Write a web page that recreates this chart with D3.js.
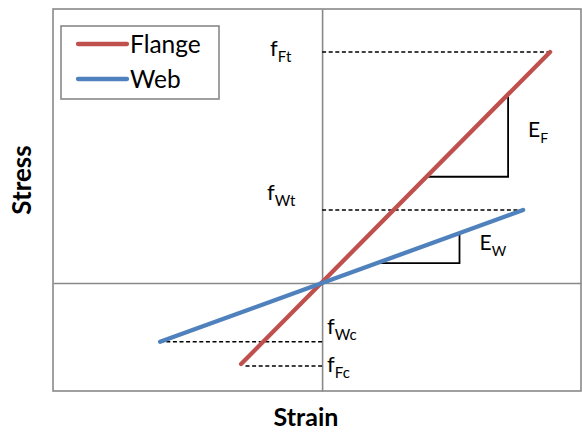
<!DOCTYPE html>
<html>
<head>
<meta charset="utf-8">
<script src="https://cdn.jsdelivr.net/npm/d3@7"></script>
<style>
    body { margin: 0; background: #fff; }
    svg text { font-family: Lato, "Liberation Sans", sans-serif; fill: #000; }
</style>
</head>
<body>
<div id="chart"></div>
<script>
// Stress-strain sketch: flange and web (arbitrary units)
var seriesNames = ["Flange", "Web"];
var seriesColors = ["#C0504D", "#4F81BD"];
var flangeStrain = [-2.7, 7.6];
var flangeStress = [-2.7, 7.7];
var webStrain = [-5.4, 6.7];
var webStress = [-1.96, 2.43];

// dashed guides: [label, strain at end, stress level]
var guideLabels = ["Ft", "Wt", "Wc", "Fc"];
var guideStrain = [7.6, 6.7, -5.4, -2.6];
var guideStress = [7.7, 2.43, -1.96, -2.77];

// slope triangles: [x from, x to, y low, y high]
var slopeLabels = ["F", "W"];
var slopeX0 = [3.49, 1.9];
var slopeX1 = [6.2, 4.58];
var slopeY0 = [3.54, 0.66];
var slopeY1 = [6.21, 1.63];

var width = 582, height = 433;

var svg = d3.select("#chart").append("svg")
    .attr("width", width)
    .attr("height", height);

var x = d3.scaleLinear().domain([-8.97, 8.63]).range([53, 581]);
var y = d3.scaleLinear().domain([-3.6, 9.13]).range([391, 9]);

// plot frame
svg.append("rect")
    .attr("x", x.range()[0])
    .attr("y", y.range()[1])
    .attr("width", x.range()[1] - x.range()[0])
    .attr("height", y.range()[0] - y.range()[1])
    .attr("fill", "none")
    .attr("stroke", "#898989")
    .attr("stroke-width", 1.6);

// axes through the origin, no ticks
var xAxis = svg.append("g")
    .attr("transform", "translate(0," + y(0) + ")")
    .call(d3.axisBottom(x).tickValues([]).tickSizeOuter(0));
var yAxis = svg.append("g")
    .attr("transform", "translate(" + x(0) + ",0)")
    .call(d3.axisLeft(y).tickValues([]).tickSizeOuter(0));
svg.selectAll(".domain").attr("stroke", "#898989").attr("stroke-width", 1.6);

// dashed guide lines
guideLabels.forEach(function (lab, i) {
    svg.append("line")
        .attr("x1", x(0)).attr("x2", x(guideStrain[i]))
        .attr("y1", y(guideStress[i])).attr("y2", y(guideStress[i]))
        .attr("stroke", "#000")
        .attr("stroke-width", 1.5)
        .attr("stroke-dasharray", "4,2.6");
});

// slope triangles
slopeLabels.forEach(function (lab, i) {
    svg.append("path")
        .attr("d", "M" + x(slopeX0[i]) + "," + y(slopeY0[i]) +
            "H" + x(slopeX1[i]) + "V" + y(slopeY1[i]))
        .attr("fill", "none")
        .attr("stroke", "#000")
        .attr("stroke-width", 1.8);
});

// series lines
var series = [
    d3.zip(flangeStrain, flangeStress),
    d3.zip(webStrain, webStress)
];
var line = d3.line().x(function (d) { return x(d[0]); }).y(function (d) { return y(d[1]); });

svg.selectAll(".series")
    .data(series)
    .enter().append("path")
    .attr("class", "series")
    .attr("d", line)
    .attr("fill", "none")
    .attr("stroke", function (d, i) { return seriesColors[i]; })
    .attr("stroke-width", 4.3)
    .attr("stroke-linecap", "round");

// labels with subscripts
function subLabel(base, sub, px, py, size, subSize) {
    var t = svg.append("text")
        .attr("x", px)
        .attr("y", py)
        .attr("font-size", size + "px");
    t.append("tspan").text(base);
    t.append("tspan").attr("dy", 6).attr("font-size", subSize + "px").text(sub);
}

// f labels sit left of the axis for tension, right for compression
subLabel("f", guideLabels[0], x(0) - 52, y(guideStress[0]) + 4, 22, 15);
subLabel("f", guideLabels[1], x(0) - 55, y(guideStress[1]) - 10, 22, 15);
subLabel("f", guideLabels[2], x(0) + 5, y(guideStress[2]) - 8, 22, 15);
subLabel("f", guideLabels[3], x(0) + 5, y(guideStress[3]) + 6, 22, 15);

subLabel("E", slopeLabels[0], x(slopeX1[0]) + 20, y(slopeY1[0]) + 40, 21, 14);
subLabel("E", slopeLabels[1], x(slopeX1[1]) + 20, y(slopeY1[1]) + 16, 21, 14);

// legend
var legend = svg.append("g");
legend.append("rect")
    .attr("x", 61).attr("y", 26)
    .attr("width", 158).attr("height", 73)
    .attr("fill", "#fff")
    .attr("stroke", "#898989")
    .attr("stroke-width", 1.6);

seriesNames.forEach(function (name, i) {
    var ly = 44 + i * 35;
    legend.append("line")
        .attr("x1", 78).attr("x2", 127)
        .attr("y1", ly).attr("y2", ly)
        .attr("stroke", seriesColors[i])
        .attr("stroke-width", 4.3)
        .attr("stroke-linecap", "round");
    legend.append("text")
        .attr("x", 130)
        .attr("y", ly + 9)
        .attr("font-size", "24.5px")
        .text(name);
});

// axis titles
svg.append("text")
    .attr("x", 306)
    .attr("y", 426)
    .attr("text-anchor", "middle")
    .attr("font-size", "25px")
    .attr("font-weight", "bold")
    .text("Strain");

svg.append("text")
    .attr("transform", "translate(31,180) rotate(-90)")
    .attr("text-anchor", "middle")
    .attr("font-size", "26px")
    .attr("font-weight", "bold")
    .text("Stress");
</script>
</body>
</html>
